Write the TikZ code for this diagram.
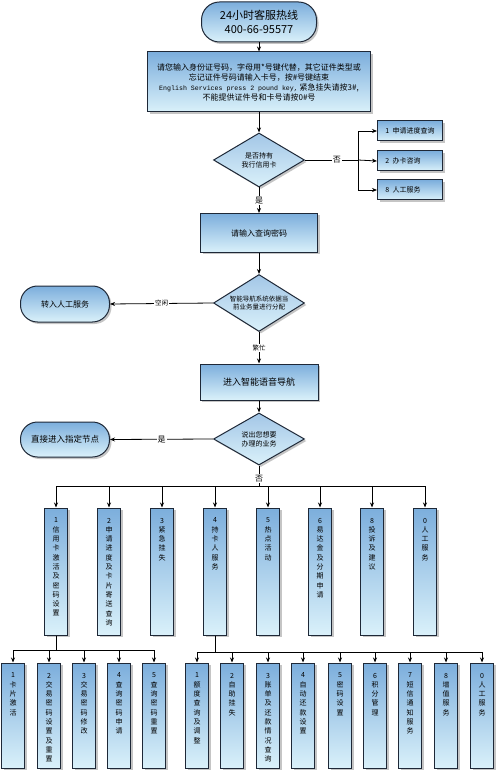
\documentclass[tikz,border=0pt]{standalone}
\usepackage{fontspec}
\setmainfont{Noto Sans CJK SC}
\newfontfamily\enmono{Liberation Mono}
\usetikzlibrary{shapes.geometric,arrows.meta,shadows}

\definecolor{boxtop}{RGB}{124,174,220}
\definecolor{boxbot}{RGB}{218,241,250}
\definecolor{boxline}{RGB}{30,40,55}

\tikzset{
    box/.style={draw=boxline, line width=1pt, top color=boxtop, bottom color=boxbot,
        drop shadow={shadow xshift=2pt, shadow yshift=-2pt, fill=black!45},
        align=center, inner sep=0pt},
    proc/.style={box, rectangle},
    term/.style={box, rectangle, rounded corners=17pt, minimum width=89pt, minimum height=36pt},
    ask/.style={box, diamond, aspect=1.65, top color=boxtop!70!white, bottom color=boxbot,
        minimum width=91pt, minimum height=55pt},
    item/.style={proc, minimum width=65pt, minimum height=20pt, font=\fontsize{7}{8}\selectfont},
    tall/.style={proc, minimum width=23pt},
    lbl/.style={fill=white, inner sep=1pt, font=\fontsize{8}{8}\selectfont},
    slbl/.style={lbl, font=\fontsize{6.5}{6.5}\selectfont},
    wire/.style={line width=0.8pt},
    arr/.style={wire, -{Stealth[length=5pt,width=4pt]}},
}
\newcommand{\vlabel}[2]{\parbox[c][#1][t]{20pt}{\centering\fontsize{7pt}{9.3pt}\selectfont\vspace*{10pt}#2}}

\begin{document}
\begin{tikzpicture}[x=1pt, y=-1pt]
    \useasboundingbox (0,0) rectangle (500,775);

    % hotline and greeting
    \node[term, rounded corners=18pt, minimum width=115pt, minimum height=40pt,
        font=\fontsize{11}{14}\selectfont] (hot) at (259,22) {24小时客服热线\\400-66-95577};
    \node[proc, minimum width=223pt, minimum height=60pt, font=\fontsize{8}{10}\selectfont] (info) at (259,82)
        {请您输入身份证号码，字母用*号键代替，其它证件类型或\\忘记证件号码请输入卡号，按\#号键结束\\
         {\enmono\fontsize{6.6}{10}\selectfont English Services press 2 pound key,} 紧急挂失请按3\#,\\
         不能提供证件号和卡号请按0\#号};

    % card holder check
    \node[ask, minimum height=54pt, font=\fontsize{7}{9}\selectfont] (d1) at (259,160) {是否持有\\我行信用卡};
    \node[item] (s1) at (410,131) {1\ \ 申请进度查询};
    \node[item] (s2) at (410,161) {2\ \ 办卡咨询\hspace*{14pt}};
    \node[item] (s3) at (410,190) {8\ \ 人工服务\hspace*{14pt}};
    \node[proc, minimum width=117pt, minimum height=39pt, font=\fontsize{8}{10}\selectfont] (pwd) at (259,233) {请输入查询密码};

    % routing
    \node[ask, minimum height=57pt, font=\fontsize{6.5}{8.5}\selectfont] (d2) at (259,303) {智能导航系统依据当\\前业务量进行分配};
    \node[term, font=\fontsize{8}{10}\selectfont] (man) at (65,304) {转入人工服务};
    \node[proc, minimum width=118pt, minimum height=36pt, font=\fontsize{9}{11}\selectfont] (nav) at (259,382) {进入智能语音导航};
    \node[ask, minimum height=52pt, font=\fontsize{7}{9}\selectfont] (d3) at (259,439) {说出您想要\\办理的业务};
    \node[term, minimum height=35pt, font=\fontsize{8.5}{10}\selectfont] (direct) at (65,439.5) {直接进入指定节点};

    % menu
    \node[tall] (a1) at (56,571.5)  {\vlabel{127pt}{1\\信\\用\\卡\\激\\活\\及\\密\\码\\设\\置}};
    \node[tall] (a2) at (109,571.5) {\vlabel{127pt}{2\\申\\请\\进\\度\\及\\卡\\片\\寄\\送\\查\\询}};
    \node[tall] (a3) at (162,571.5) {\vlabel{127pt}{3\\紧\\急\\挂\\失}};
    \node[tall] (a4) at (215,571.5) {\vlabel{127pt}{4\\持\\卡\\人\\服\\务}};
    \node[tall] (a5) at (268,571.5) {\vlabel{127pt}{5\\热\\点\\活\\动}};
    \node[tall] (a6) at (320,571.5) {\vlabel{127pt}{6\\易\\达\\金\\及\\分\\期\\申\\请}};
    \node[tall] (a7) at (372,571.5) {\vlabel{127pt}{8\\投\\诉\\及\\建\\议}};
    \node[tall] (a8) at (425,571.5) {\vlabel{127pt}{0\\人\\工\\服\\务}};

    % activation and password
    \node[tall] (b1) at (13,715.5)  {\vlabel{105pt}{1\\卡\\片\\激\\活}};
    \node[tall] (b2) at (49,715.5)  {\vlabel{105pt}{2\\交\\易\\密\\码\\设\\置\\及\\重\\置}};
    \node[tall] (b3) at (84,715.5)  {\vlabel{105pt}{3\\交\\易\\密\\码\\修\\改}};
    \node[tall] (b4) at (119,715.5) {\vlabel{105pt}{4\\查\\询\\密\\码\\申\\请}};
    \node[tall] (b5) at (154,715.5) {\vlabel{105pt}{5\\查\\询\\密\\码\\重\\置}};

    % card holder services
    \node[tall] (c1) at (197,715.5) {\vlabel{105pt}{1\\额\\度\\查\\询\\及\\调\\整}};
    \node[tall] (c2) at (232,715.5) {\vlabel{105pt}{2\\自\\助\\挂\\失}};
    \node[tall] (c3) at (268,715.5) {\vlabel{105pt}{3\\账\\单\\及\\还\\款\\情\\况\\查\\询}};
    \node[tall] (c4) at (303,715.5) {\vlabel{105pt}{4\\自\\动\\还\\款\\设\\置}};
    \node[tall] (c5) at (340,715.5) {\vlabel{105pt}{5\\密\\码\\设\\置}};
    \node[tall] (c6) at (375,715.5) {\vlabel{105pt}{6\\积\\分\\管\\理}};
    \node[tall] (c7) at (410,715.5) {\vlabel{105pt}{7\\短\\信\\通\\知\\服\\务}};
    \node[tall] (c8) at (446,715.5) {\vlabel{105pt}{8\\增\\值\\服\\务}};
    \node[tall] (c9) at (482,715.5) {\vlabel{105pt}{0\\人\\工\\服\\务}};

    \coordinate (j1) at (358,160);
    \coordinate (busA) at (259,486);
    \coordinate (busB) at (56,650);
    \coordinate (busC) at (215,652);

    \draw[arr] (hot) -- (info);
    \draw[arr] (info) -- (d1);
    \draw[wire] (d1.east) -- node[lbl, pos=0.6] {否} (j1);
    \draw[arr] (j1) |- (s1.west);
    \draw[arr] (j1) -- (s2.west);
    \draw[arr] (j1) |- (s3.west);
    \draw[arr] (d1) -- node[lbl] {是} (pwd);
    \draw[arr] (pwd) -- (d2);
    \draw[arr] (d2.west) -- node[slbl] {空闲} (man.east);
    \draw[arr] (d2) -- node[slbl] {繁忙} (nav);
    \draw[arr] (nav) -- (d3);
    \draw[arr] (d3.west) -- node[lbl] {是} (direct.east);

    \draw[wire] (d3.south) -- node[lbl, pos=0.65] {否} (busA);
    \draw[wire] (a1 |- busA) -- (a8 |- busA);
    \foreach \n in {a1,a2,a3,a4,a5,a6,a7,a8}
        \draw[arr] (\n |- busA) -- (\n.north);

    \draw[wire] (a1.south) -- (busB);
    \draw[wire] (b1 |- busB) -- (b5 |- busB);
    \foreach \n in {b1,b2,b3,b4,b5}
        \draw[arr] (\n |- busB) -- (\n.north);

    \draw[wire] (a4.south) -- (busC);
    \draw[wire] (c1 |- busC) -- (c9 |- busC);
    \foreach \n in {c1,c2,c3,c4,c5,c6,c7,c8,c9}
        \draw[arr] (\n |- busC) -- (\n.north);
\end{tikzpicture}
\end{document}
